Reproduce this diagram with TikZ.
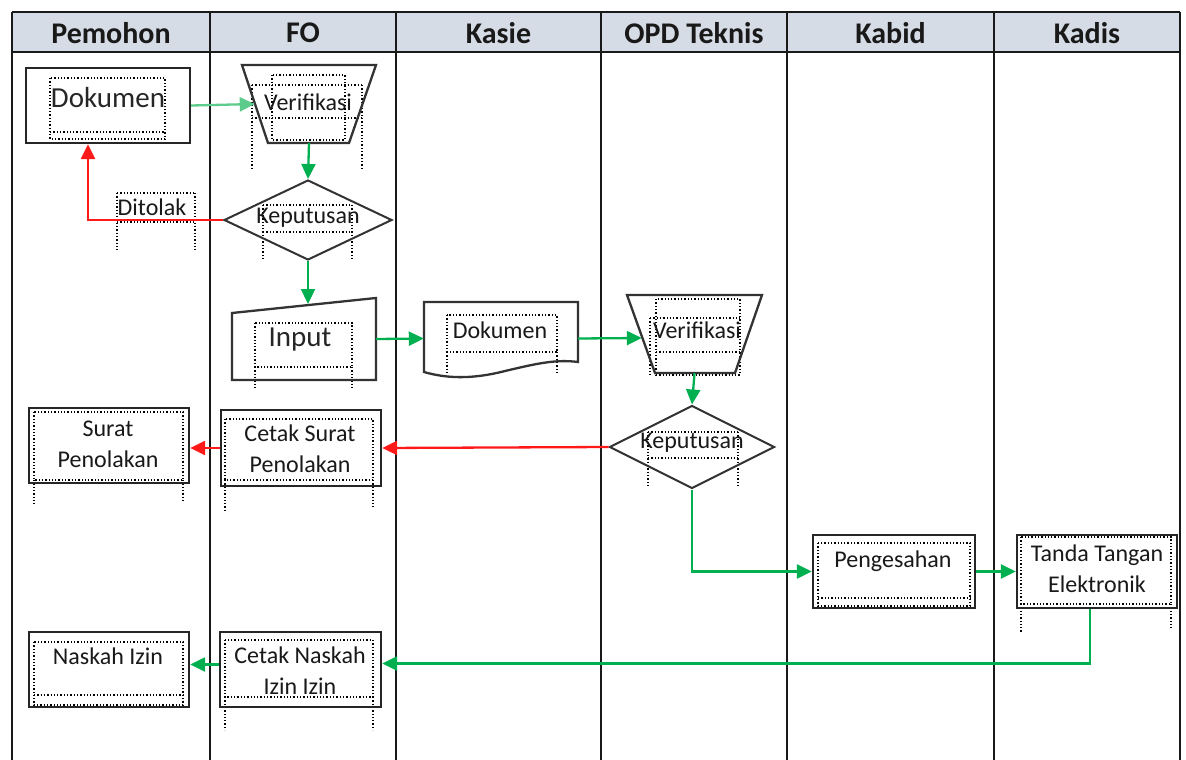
\documentclass[tikz,border=0pt]{standalone}
\usepackage{fontspec}
\setmainfont{Carlito}
\usetikzlibrary{arrows.meta,shapes.geometric,calc}
\definecolor{hdr}{HTML}{D6DCE5}
\definecolor{gr}{HTML}{00B050}
\definecolor{lgr}{HTML}{5CCB8B}
\definecolor{rd}{HTML}{FF1A1A}
\begin{document}
\begin{tikzpicture}[x=1pt,y=-1pt,
  lane/.style={line width=2.3pt, draw=black!90},
  box/.style={draw=black!85, line width=2.3pt, rectangle, inner sep=0pt},
  ghost/.style={draw=none, rectangle, inner sep=0pt},
  shp/.style={draw=black!80, line width=2.3pt, line join=miter},
  dia/.style={draw=black!80, line width=2pt, diamond, inner sep=0pt},
  txt/.style={font=\fontsize{24}{31}\selectfont, align=center, inner sep=0pt, text=black!90},
  bigtxt/.style={font=\fontsize{29}{31}\selectfont, inner sep=0pt, text=black!85},
  hd/.style={font=\fontsize{30}{30}\selectfont\bfseries, inner sep=0pt, text=black!90},
  tb/.style={dotted, line width=1.3pt, black},
  arr/.style={line width=2.3pt, -{Triangle[length=15pt,width=14pt]}},
  ga/.style={arr, draw=gr},
  la/.style={arr, draw=lgr},
  ra/.style={arr, draw=rd},
]
\useasboundingbox (0,0) rectangle (1186,760);
\fill[white] (0,0) rectangle (1186,760);
% header
\fill[hdr] (12,12) rectangle (1180,52);
\draw[lane] (12,12) -- (1180,12);
\draw[lane] (12,52) -- (1180,52);
\foreach \x in {12,210,396,601,787,994,1180} {\draw[lane] (\x,12) -- (\x,760);}
\node[hd] (hp) at (111,33) {Pemohon};
\node[hd] (hf) at (303,33) {FO};
\node[hd] (hk) at (498.5,33) {Kasie};
\node[hd] (ho) at (694,33) {OPD Teknis};
\node[hd] (hb) at (890.5,33) {Kabid};
\node[hd] (hd2) at (1087,33) {Kadis};

% dotted text frames
\draw[tb] (50,78) rectangle (165,139);
\draw[tb] (50,132) -- (165,132);
\draw[tb] (272,75) rectangle (345,140);
\draw[tb] (252,85) -- (362,85);
\draw[tb] (252,85) -- (252,168); \draw[tb] (362,85) -- (362,168);
\draw[tb] (252,118) -- (362,118);
\draw[tb] (117,193) -- (195,193);
\draw[tb] (117,193) -- (117,250); \draw[tb] (195,193) -- (195,250);
\draw[tb] (117,222) -- (195,222);
\draw[tb] (263,205) -- (352,205);
\draw[tb] (263,205) -- (263,260); \draw[tb] (352,205) -- (352,260);
\draw[tb] (263,232) -- (352,232);
\draw[tb] (255,323) rectangle (352,367);
\draw[tb] (255,367) -- (255,390); \draw[tb] (352,367) -- (352,390);
\draw[tb] (447,315) rectangle (557,352);
\draw[tb] (447,352) -- (447,372); \draw[tb] (557,352) -- (557,372);
\draw[tb] (656,299) rectangle (740,375);
\draw[tb] (650,318) -- (740,318); \draw[tb] (650,318) -- (650,375);
\draw[tb] (656,352) -- (740,352);
\draw[tb] (648,432) -- (738,432);
\draw[tb] (648,432) -- (648,488); \draw[tb] (738,432) -- (738,488);
\draw[tb] (648,458) -- (738,458);
\draw[tb] (225,419) rectangle (373,480);
\draw[tb] (225,480) -- (225,510); \draw[tb] (373,480) -- (373,507);
\draw[tb] (34,412) rectangle (183,480);
\draw[tb] (34,480) -- (34,505); \draw[tb] (183,480) -- (183,503);
\draw[tb] (818,543) rectangle (970,606);
\draw[tb] (818,598) -- (970,598);
\draw[tb] (1021,537) rectangle (1171,604);
\draw[tb] (1021,604) -- (1021,632); \draw[tb] (1171,604) -- (1171,630);
\draw[tb] (34,642) rectangle (183,705);
\draw[tb] (34,695) -- (183,695);
\draw[tb] (225,640) rectangle (373,697);
\draw[tb] (225,697) -- (225,730); \draw[tb] (373,697) -- (373,730);

% shapes
\node[box, minimum width=164, minimum height=75] (dokp) at (108,105.5) {};
\node[ghost, minimum width=134, minimum height=78] (verf) at (309,104) {};
\draw[shp] (242,65) -- (376,65) -- (349,143) -- (268,143) -- cycle;
\node[dia, minimum width=168, minimum height=80] (kepf) at (308,220) {};
\node[ghost, minimum width=144, minimum height=82] (inp) at (304,339) {};
\draw[shp] (232,313) -- (376,298) -- (376,380) -- (232,380) -- cycle;
\coordinate (inptop) at (308,304);
\node[ghost, minimum width=154, minimum height=73] (dokk) at (501,338.5) {};
\draw[shp] (424,372) -- (424,302) -- (578,302) -- (578,362)
  .. controls (555,359) and (535,364) .. (505,371)
  .. controls (470,380) and (445,378) .. (424,372) -- cycle;
\node[ghost, minimum width=135, minimum height=78] (vero) at (694.5,334) {};
\draw[shp] (627,295) -- (762,295) -- (735,373) -- (655,373) -- cycle;
\node[dia, minimum width=165, minimum height=83] (kepo) at (692,447) {};
\node[box, minimum width=160, minimum height=76] (cets) at (301,448) {};
\node[box, minimum width=160, minimum height=75] (surp) at (109,445.5) {};
\node[box, minimum width=162, minimum height=73] (peng) at (894,571.5) {};
\node[box, minimum width=160, minimum height=73] (ttd) at (1097,571.5) {};
\node[box, minimum width=161, minimum height=75] (cetn) at (300.5,669.5) {};
\node[box, minimum width=160, minimum height=75] (nask) at (109,669.5) {};

% texts
\node[bigtxt] (t1) at (108,98) {Dokumen};
\node[txt] (t2) at (308,102) {Verifikasi};
\node[txt] (t3) at (152,207) {Ditolak};
\node[txt] (t4) at (308,218) {Keputusan};
\node[bigtxt] (t5) at (300,340) {Input};
\node[txt] (t6) at (500,330) {Dokumen};
\node[txt] (t7) at (697,330) {Verifikasi};
\node[txt] (t8) at (692,443) {Keputusan};
\node[txt] (t9) at (300,449) {Cetak Surat\\Penolakan};
\node[txt] (t10) at (108,444) {Surat\\Penolakan};
\node[txt] (t11) at (893,561) {Pengesahan};
\node[txt] (t12) at (1097,569) {Tanda Tangan\\Elektronik};
\node[txt] (t13) at (108,656) {Naskah Izin};
\node[txt] (t14) at (300,671) {Cetak Naskah\\Izin Izin};

% connectors
\draw[la] (dokp.east) -- ($(verf.west)+(13,0)$);
\draw[ga] (verf.south) -- (kepf.north);
\draw[ra] (kepf.west) -| ($(dokp.south)+(-20,0)$);
\draw[ga] (kepf.south) -- (inptop);
\draw[ga] (inp.east) -- (dokk.west);
\draw[ga] (dokk.east) -- ($(vero.west)+(15,4)$);
\draw[ga] (vero.south) -- (kepo.north);
\draw[ra] (kepo.west) -- (cets.east);
\draw[ra] (cets.west) -- (cets.west -| surp.east);
\draw[ga] (kepo.south) |- (peng.west);
\draw[ga] (peng.east) -- (ttd.west);
\draw[ga] ($(ttd.south)+(-7,0)$) |- ($(cetn.east)+(0,-6)$);
\draw[ga] ($(cetn.west)+(0,-5)$) -- ($(nask.east)+(0,-5)$);
\end{tikzpicture}
\end{document}
